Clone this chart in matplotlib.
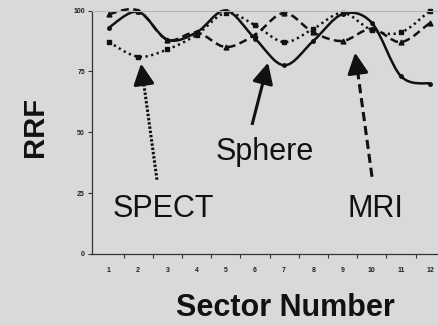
import matplotlib
matplotlib.use("Agg")
import matplotlib.pyplot as plt
from matplotlib.path import Path
from matplotlib.patches import PathPatch
import numpy as np

plt.rcParams['font.family'] = ['Liberation Sans', 'DejaVu Sans']

# Sector numbers and relative radial function (RRF) values per method
sectors = [1, 2, 3, 4, 5, 6, 7, 8, 9, 10, 11, 12]
sphere = [93, 99.5, 88, 91, 100, 88.5, 77.5, 87.5, 98.5, 95, 73, 70]
mri = [98.5, 100, 88, 91, 85, 90, 99, 91, 87.5, 92.5, 87, 95]
spect = [87, 81, 84, 90, 99, 94, 87, 92.5, 99, 92, 91, 100]
y_ticks = [0, 25, 50, 75, 100]

BG = '#d9d9d9'


def smooth_path(xs, ys):
    """Cubic Bezier path through the points (Catmull-Rom tangents)."""
    p = np.column_stack([xs, ys]).astype(float)
    ext = np.vstack([p[0], p, p[-1]])
    verts = [p[0]]
    codes = [Path.MOVETO]
    for i in range(len(p) - 1):
        p0, p1, p2, p3 = ext[i], ext[i + 1], ext[i + 2], ext[i + 3]
        c1 = p1 + (p2 - p0) / 6.0
        c2 = p2 - (p3 - p1) / 6.0
        verts += [c1, c2, p2]
        codes += [Path.CURVE4] * 3
    return Path(verts, codes)


fig = plt.figure(figsize=(4.38, 3.25), dpi=100, facecolor=BG)
ax = fig.add_axes([92 / 438, 1 - 254 / 325, 346 / 438, 243.5 / 325])
ax.set_facecolor(BG)

ax.set_xlim(0.42, 12.27)
ax.set_ylim(0, 100)

series = [
    (sphere, '-', 'o', 2.5),
    (mri, (0, (3.2, 1.8)), '^', 3.5),
    (spect, (0, (0.9, 1.4)), 's', 3.0),
]
for ys, ls, mk, ms in series:
    patch = PathPatch(smooth_path(sectors, ys), fill=False, edgecolor='#111111',
                      linewidth=1.8, linestyle=ls, clip_on=False, capstyle='butt')
    ax.add_patch(patch)
    ax.plot(sectors, ys, linestyle='none', marker=mk, markersize=ms,
            color='#111111', clip_on=False)

# Spines
ax.spines['right'].set_visible(False)
ax.spines['top'].set_color('#b5b5b5')
ax.spines['top'].set_linewidth(0.8)
ax.spines['left'].set_color('#333333')
ax.spines['bottom'].set_color('#333333')
ax.spines['left'].set_linewidth(0.9)
ax.spines['bottom'].set_linewidth(0.9)

# Ticks
ax.set_yticks(y_ticks)
ax.set_yticklabels([str(v) for v in y_ticks], fontsize=5, fontweight='bold',
                   color='#222222')
ax.tick_params(axis='y', length=3, width=0.8, pad=2, color='#333333')
ax.set_xticks(sectors)
ax.set_xticklabels([str(s) for s in sectors], fontsize=5, fontweight='bold',
                   color='#222222')
ax.set_xticks(np.arange(1.5, 12.5, 1.0), minor=True)
ax.tick_params(axis='x', which='major', length=0, pad=9)
ax.tick_params(axis='x', which='minor', length=3, width=0.8, color='#333333')

# Axis titles
fig.text(285 / 438, 1 - 316 / 325, 'Sector Number', fontsize=22, fontweight='bold',
         ha='center', va='baseline', color='#111111')
fig.text(43 / 438, 1 - 127 / 325, 'RRF', fontsize=21, fontweight='bold',
         rotation=90, rotation_mode='anchor', ha='center', va='baseline',
         color='#111111')

# Labels with pointers
ax.text(2.88, 15.2, 'SPECT', fontsize=22, ha='center', va='baseline', color='#111111')
ax.text(6.35, 38.7, 'Sphere', fontsize=22, ha='center', va='baseline', color='#111111')
ax.text(10.12, 15.2, 'MRI', fontsize=22, ha='center', va='baseline', color='#111111')

pointers = [
    ((2.645, 30.5), (2.10, 78.2), (0, (0.8, 0.6))),
    ((5.90, 53.0), (6.45, 78.6), '-'),
    ((10.01, 31.7), (9.43, 82.7), (0, (3.0, 1.6))),
]
for tail, tip, ls in pointers:
    tail = np.array(tail)
    tip = np.array(tip)
    # shaft stops short of the head
    d = tip - tail
    head_start = tail + d * 0.82
    ax.plot([tail[0], head_start[0]], [tail[1], head_start[1]], color='#111111',
            linewidth=2.2, linestyle=ls, solid_capstyle='butt', dash_capstyle='butt')
    ax.annotate('', xy=tip, xytext=head_start,
                arrowprops=dict(arrowstyle='-|>,head_length=0.9,head_width=0.45',
                                mutation_scale=14, color='#111111', lw=2.2,
                                shrinkA=0, shrinkB=0))

fig.savefig('out.png', dpi=100, facecolor=BG)
